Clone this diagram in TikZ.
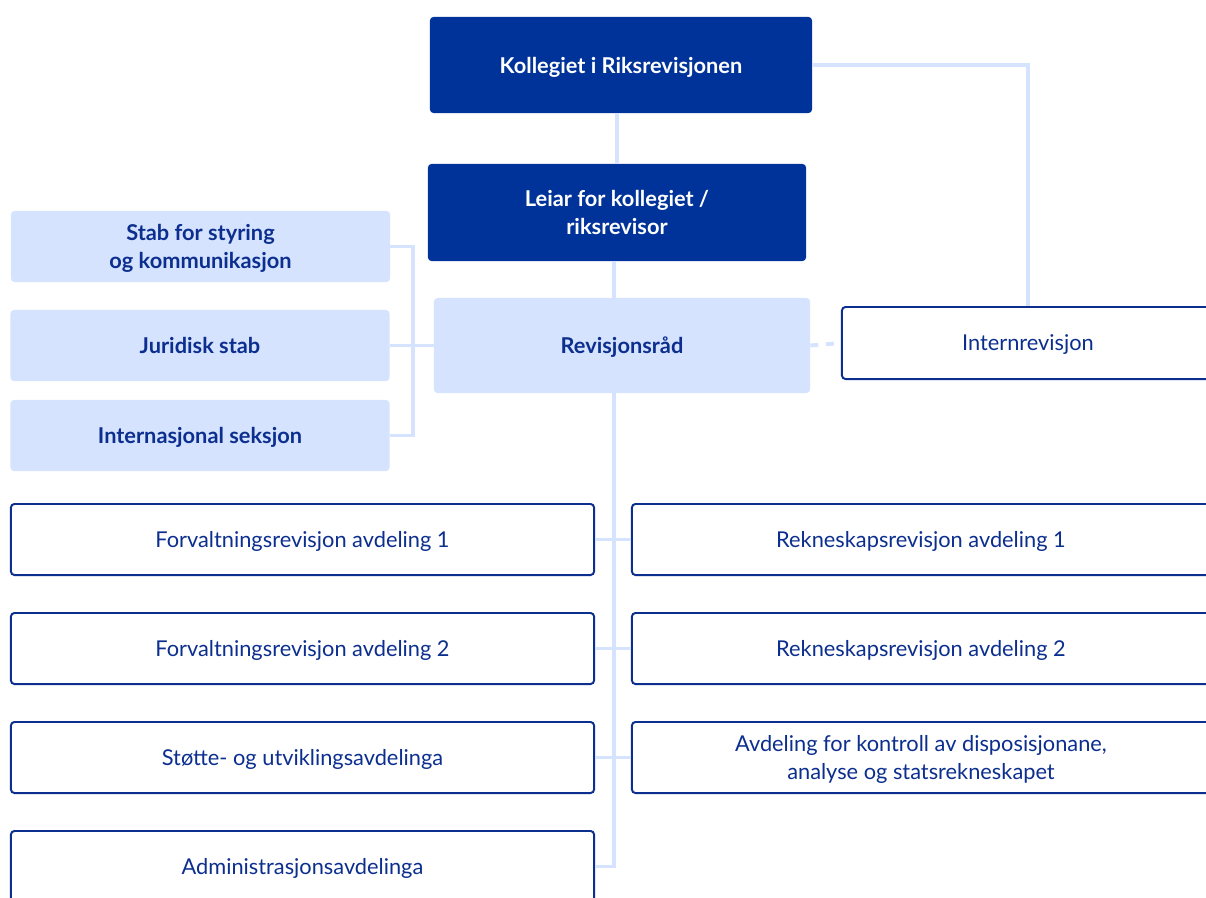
\documentclass[tikz,border=0pt]{standalone}
\usepackage{fontspec}
\setmainfont{Lato}
\usetikzlibrary{positioning}

\definecolor{rrdark}{RGB}{0,51,153}
\definecolor{rrlight}{RGB}{213,227,255}
\definecolor{rrtext}{RGB}{12,47,143}

\begin{document}
\begin{tikzpicture}[x=0.025cm,y=-0.025cm,
		box/.style={rounded corners=2.5pt,align=center,inner sep=0pt,text depth=0pt,
			font=\fontsize{15.5}{19.5}\selectfont},
		lead/.style={box,fill=rrdark,text=white,font=\fontsize{15.5}{19.5}\selectfont\bfseries},
		stabbox/.style={box,fill=rrlight,text=rrtext,font=\fontsize{15.5}{19.5}\selectfont\bfseries,
			minimum width=9.475cm,minimum height=1.775cm},
		unit/.style={box,draw=rrtext,line width=1.4pt,fill=white,text=rrtext,minimum height=1.775cm},
		link/.style={rrlight,line width=2.8pt}]
	
	\useasboundingbox (0,0) rectangle (1206,897);
	
	% top of the organisation
	\node[lead,minimum width=9.55cm,minimum height=2.4cm] (kol) at (621,65) {Kollegiet i Riksrevisjonen};
	\node[lead,minimum width=9.45cm,minimum height=2.425cm] (leiar) at (617,212.5) {Leiar for kollegiet /\\riksrevisor};
	\node[box,fill=rrlight,text=rrtext,font=\fontsize{15.5}{19.5}\selectfont\bfseries,
		minimum width=9.4cm,minimum height=2.375cm] (raad) at (622,345.5) {Revisjonsråd};
	\node[unit,minimum width=9.3cm,minimum height=1.8cm] (intern) at (1028,343) {Internrevisjon};
	
	% staff units
	\node[stabbox] (stab) at (200.5,246.5) {Stab for styring\\og kommunikasjon};
	\node[stabbox] (jur) at (200,345.5) {Juridisk stab};
	\node[stabbox] (intl) at (200,435.5) {Internasjonal seksjon};
	
	% departments
	\node[unit,minimum width=14.575cm] (fa1) at (302.5,539.5) {Forvaltningsrevisjon avdeling 1};
	\node[unit,minimum width=14.575cm] (fa2) at (302.5,648.5) {Forvaltningsrevisjon avdeling 2};
	\node[unit,minimum width=14.575cm] (sua) at (302.5,757.5) {Støtte- og utviklingsavdelinga};
	\node[unit,minimum width=14.575cm] (adm) at (302.5,866.5) {Administrasjonsavdelinga};
	\node[unit,minimum width=14.45cm] (ra1) at (921,539.5) {Rekneskapsrevisjon avdeling 1};
	\node[unit,minimum width=14.45cm] (ra2) at (921,648.5) {Rekneskapsrevisjon avdeling 2};
	\node[unit,minimum width=14.45cm] (kon) at (921,757.5) {Avdeling for kontroll av disposisjonane,\\analyse og statsrekneskapet};
	
	% connectors
	\draw[link] (leiar.north) -- (leiar.north |- kol.south);
	\draw[link] (614,261) coordinate (l1) -- (l1 |- raad.north);
	\draw[link] (kol.east) -| (intern.north);
	\draw[link,dash pattern=on 5.6pt off 5.6pt] (raad.east) -- (intern.west);
	
	\draw[link] (stab.east) -- ++(23,0) coordinate (br) -- (br |- intl.east) -- (intl.east);
	\draw[link] (jur.east) -- (raad.west);
	
	\coordinate (spine) at (614,393);
	\draw[link] (spine) -- (spine |- adm.east) -- (adm.east);
	\draw[link] (fa1.east) -- (ra1.west);
	\draw[link] (fa2.east) -- (ra2.west);
	\draw[link] (sua.east) -- (kon.west);
	
\end{tikzpicture}
\end{document}
